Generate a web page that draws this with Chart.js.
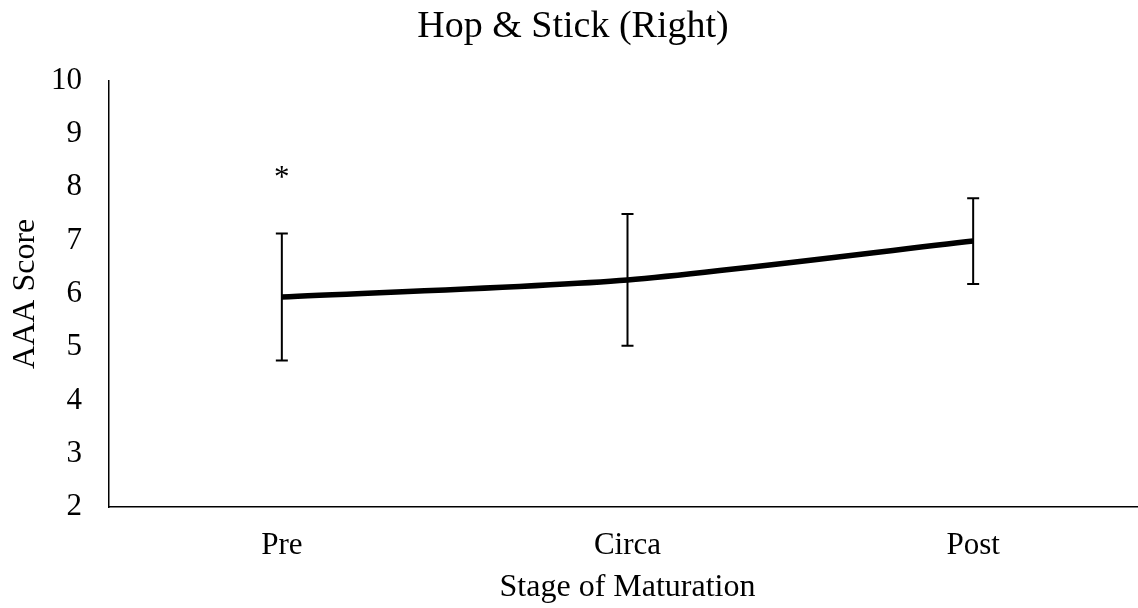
<!DOCTYPE html>
<html>
<head>
<meta charset="utf-8">
<title>Hop & Stick (Right)</title>
<script src="https://cdn.jsdelivr.net/npm/chart.js@4.4.1/dist/chart.umd.min.js"></script>
<style>
  html, body { margin: 0; padding: 0; background: #fff; overflow: hidden; }
  #wrap { width: 1138px; height: 608px; overflow: hidden; }
</style>
</head>
<body>
<div id="wrap">
  <canvas id="hopChart" width="1150" height="608"></canvas>
</div>
<script>
// chart data
const stages = ['Pre', 'Circa', 'Post'];
const meanScores = [5.94, 6.26, 6.99];
const errorBars = [1.19, 1.235, 0.805];
const sigMarks = ['*', '', ''];
const sigMarkValues = [8.16, null, null];
const yMin = 2;
const yMax = 10;
const yStep = 1;

const serif = '"Liberation Serif", "Times New Roman", serif';

// draws the error bars and the significance asterisk
const errorBarPlugin = {
  id: 'errorBars',
  afterDatasetsDraw(chart) {
    const ctx = chart.ctx;
    const xs = chart.scales.x;
    const ys = chart.scales.y;
    ctx.save();
    ctx.strokeStyle = '#000';
    ctx.lineWidth = 2;
    meanScores.forEach((v, i) => {
      const x = xs.getPixelForValue(i);
      const top = ys.getPixelForValue(v + errorBars[i]);
      const bot = ys.getPixelForValue(v - errorBars[i]);
      ctx.beginPath();
      ctx.moveTo(x, top);
      ctx.lineTo(x, bot);
      ctx.moveTo(x - 6, top);
      ctx.lineTo(x + 6, top);
      ctx.moveTo(x - 6, bot);
      ctx.lineTo(x + 6, bot);
      ctx.stroke();
    });
    ctx.fillStyle = '#000';
    ctx.font = '31px ' + serif;
    ctx.textAlign = 'center';
    ctx.textBaseline = 'middle';
    sigMarks.forEach((m, i) => {
      if (!m) return;
      ctx.fillText(m, xs.getPixelForValue(i), ys.getPixelForValue(sigMarkValues[i]));
    });
    ctx.restore();
  }
};

const ctx = document.getElementById('hopChart').getContext('2d');
new Chart(ctx, {
  type: 'line',
  data: {
    labels: stages,
    datasets: [{
      label: 'AAA Score',
      data: meanScores,
      borderColor: '#000',
      borderWidth: 5.5,
      pointRadius: 0,
      tension: 0.25,
      fill: false
    }]
  },
  options: {
    responsive: false,
    animation: false,
    layout: { padding: { left: 0, right: 4, top: 0, bottom: 0 } },
    plugins: {
      legend: { display: false },
      tooltip: { enabled: false },
      title: {
        display: true,
        text: 'Hop & Stick (Right)',
        color: '#000',
        font: { family: serif, size: 38, weight: 'normal' },
        padding: { top: 4, bottom: 31 }
      }
    },
    scales: {
      x: {
        offset: true,
        grid: { display: false, drawTicks: false },
        border: { display: true, color: '#000', width: 1.5 },
        ticks: { color: '#000', padding: 20, font: { family: serif, size: 31 } },
        title: {
          display: true,
          text: 'Stage of Maturation',
          color: '#000',
          font: { family: serif, size: 32 },
          padding: { top: 0, bottom: 1 }
        },
        afterFit(s) { s.height = 101; }
      },
      y: {
        min: yMin,
        max: yMax,
        grid: { display: false, drawTicks: false },
        border: { display: true, color: '#000', width: 1.5 },
        ticks: { stepSize: yStep, color: '#000', padding: 27, font: { family: serif, size: 31 } },
        title: {
          display: true,
          text: 'AAA Score',
          color: '#000',
          font: { family: serif, size: 32 },
          padding: { top: 6, bottom: 0 }
        },
        afterFit(s) { s.width = 109; }
      }
    }
  },
  plugins: [errorBarPlugin]
});
</script>
</body>
</html>
